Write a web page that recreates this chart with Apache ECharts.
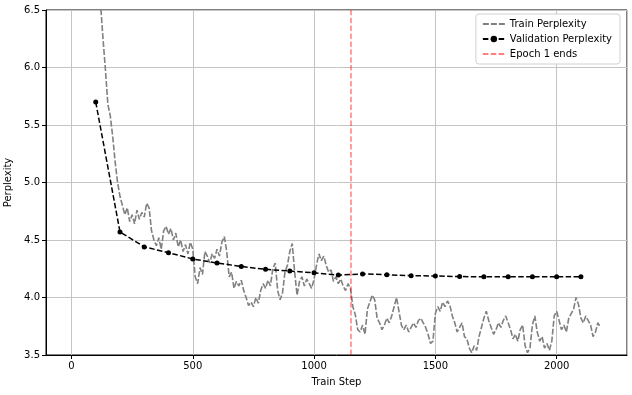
<!DOCTYPE html>
<html>
<head>
<meta charset="utf-8">
<script src="https://cdn.jsdelivr.net/npm/echarts@6/dist/echarts.min.js"></script>
<style>
  html, body { margin: 0; padding: 0; background: #fff; }
  #chart { width: 632px; height: 395px; }
</style>
</head>
<body>
<div id="chart"></div>
<script>
// train perplexity, one reading every 10 steps starting at step 0
var trainStride = 10
var trainValues = [
  60, 45, 30, 22, 17, 13.5, 11, 9.4, 8.3, 7.6, 7.1, 6.8, 6.55,
  6.25, 5.98, 5.68, 5.58, 5.40, 5.18, 5.00, 4.88, 4.80, 4.72, 4.78, 4.66, 4.72, 4.64, 4.76, 4.68, 4.74,
  4.70, 4.82, 4.78, 4.58, 4.50, 4.45, 4.52, 4.42, 4.58, 4.62, 4.55, 4.60, 4.50, 4.56, 4.44, 4.50, 4.40, 4.46, 4.38, 4.48,
  4.42, 4.18, 4.12, 4.26, 4.20, 4.40, 4.36, 4.30, 4.38, 4.34, 4.42, 4.36, 4.48, 4.53, 4.40, 4.18, 4.22, 4.08, 4.14, 4.10,
  4.15, 4.06, 4.00, 3.93, 3.96, 3.92, 4.00, 3.95, 4.06, 4.12, 4.08, 4.15, 4.10, 4.25, 4.30, 4.06, 3.98, 4.04, 4.22, 4.28,
  4.40, 4.47, 4.22, 4.02, 4.14, 4.18, 4.10, 4.16, 4.12, 4.08, 4.16, 4.28, 4.38, 4.32, 4.36, 4.28, 4.22, 4.24, 4.14, 4.18,
  4.12, 4.16, 4.10, 4.06, 4.12, 4.08, 3.92, 3.85, 3.72, 3.70, 3.76, 3.68, 3.90, 3.96, 4.02, 3.98, 3.82, 3.78, 3.72, 3.76,
  3.82, 3.78, 3.84, 3.92, 4.00, 3.88, 3.76, 3.72, 3.76, 3.70, 3.74, 3.78, 3.74, 3.80, 3.82, 3.78, 3.74, 3.68, 3.60, 3.62,
  3.86, 3.92, 3.88, 3.96, 3.92, 3.97, 3.93, 3.84, 3.78, 3.70, 3.74, 3.78, 3.66, 3.64, 3.56, 3.52, 3.58, 3.54, 3.66, 3.74,
  3.82, 3.88, 3.80, 3.74, 3.68, 3.72, 3.78, 3.74, 3.80, 3.84, 3.78, 3.72, 3.64, 3.68, 3.62, 3.72, 3.76, 3.58, 3.52, 3.56,
  3.76, 3.84, 3.70, 3.62, 3.66, 3.56, 3.60, 3.54, 3.62, 3.84, 3.88, 3.80, 3.72, 3.76, 3.70, 3.82, 3.86, 3.90, 4.00, 3.94,
  3.82, 3.78, 3.84, 3.80, 3.76, 3.66, 3.70, 3.78, 3.74
]

var valSteps = [100, 200, 300, 400, 500, 600, 700, 800, 900, 1000, 1100,
  1200, 1300, 1400, 1500, 1600, 1700, 1800, 1900, 2000, 2100]
var valValues = [5.70, 4.57, 4.44, 4.39, 4.335, 4.30, 4.27, 4.245, 4.23, 4.215, 4.195,
  4.205, 4.198, 4.19, 4.187, 4.182, 4.18, 4.18, 4.18, 4.18, 4.18]

var epochEndStep = 1150
var yTicks = [3.5, 6.5, 0.5]   // min, max, step
var xRange = [-105, 2290]

var chart = echarts.init(document.getElementById('chart'))

var trainData = trainValues.map(function (v, i) { return [i * trainStride, v] })
var valData = valSteps.map(function (s, i) { return [s, valValues[i]] })

var font = 'DejaVu Sans'
var noDot = { color: 'rgba(0,0,0,0)', borderWidth: 0, opacity: 0 }

var option = {
  animation: false,
  textStyle: { fontFamily: font, color: '#000' },
  grid: {
    left: 46, right: 5, top: 10, bottom: 40,
    outerBoundsMode: 'none',
    containLabel: false,
    show: true, borderColor: '#000', borderWidth: 1, backgroundColor: 'transparent'
  },
  legend: {
    orient: 'vertical',
    right: 12, top: 14,
    itemGap: 5,
    itemWidth: 22, itemHeight: 8,
    padding: [5, 8, 5, 6],
    backgroundColor: '#fff',
    borderColor: '#d0d0d0', borderWidth: 1, borderRadius: 3,
    textStyle: { fontFamily: font, fontSize: 10, color: '#000' },
    data: [
      { name: 'Train Perplexity', itemStyle: noDot },
      { name: 'Validation Perplexity' },
      { name: 'Epoch 1 ends', itemStyle: noDot }
    ]
  },
  xAxis: {
    type: 'value',
    min: xRange[0], max: xRange[1],
    name: 'Train Step', nameLocation: 'middle', nameGap: 22,
    nameTextStyle: { fontFamily: font, fontSize: 10, color: '#000' },
    axisLine: { show: true, onZero: false, lineStyle: { color: '#000', width: 1 } },
    axisTick: { show: true, inside: false, length: 4, lineStyle: { color: '#000' } },
    axisLabel: {
      fontFamily: font, fontSize: 10, color: '#000', margin: 6,
      showMinLabel: false, showMaxLabel: false,
      formatter: function (v) { return String(v) }
    },
    splitLine: { show: true, lineStyle: { color: '#c4c4c4', width: 1 } }
  },
  yAxis: {
    type: 'value',
    min: yTicks[0], max: yTicks[1], interval: yTicks[2],
    name: 'Perplexity', nameLocation: 'middle', nameGap: 27, nameRotate: 90,
    nameTextStyle: { fontFamily: font, fontSize: 10, color: '#000' },
    axisLine: { show: true, onZero: false, lineStyle: { color: '#000', width: 1 } },
    axisTick: { show: true, inside: false, length: 4, lineStyle: { color: '#000' } },
    axisLabel: {
      fontFamily: font, fontSize: 10, color: '#000', margin: 6,
      formatter: function (v) { return v.toFixed(1) }
    },
    splitLine: { show: true, lineStyle: { color: '#c4c4c4', width: 1 } }
  },
  series: [
    {
      name: 'Train Perplexity',
      type: 'line',
      data: trainData,
      symbol: 'none',
      clip: true,
      lineStyle: { color: '#808080', width: 1.6, type: [6, 2] },
      itemStyle: { color: '#808080' },
      z: 2
    },
    {
      name: 'Validation Perplexity',
      type: 'line',
      data: valData,
      symbol: 'circle',
      symbolSize: 5,
      lineStyle: { color: '#000', width: 1.5, type: [5.5, 2.4] },
      itemStyle: { color: '#000' },
      z: 3
    },
    {
      name: 'Epoch 1 ends',
      type: 'line',
      data: [],
      symbol: 'none',
      lineStyle: { color: 'rgba(255,0,0,0.5)', width: 1.5, type: [5.5, 2.4] },
      itemStyle: { color: 'rgba(255,0,0,0.5)' },
      markLine: {
        silent: true,
        symbol: ['none', 'none'],
        label: { show: false },
        lineStyle: { color: 'rgba(255,0,0,0.5)', width: 1.5, type: [5.5, 2.4] },
        data: [{ xAxis: epochEndStep }]
      },
      z: 4
    }
  ]
}

chart.setOption(option)
</script>
</body>
</html>
